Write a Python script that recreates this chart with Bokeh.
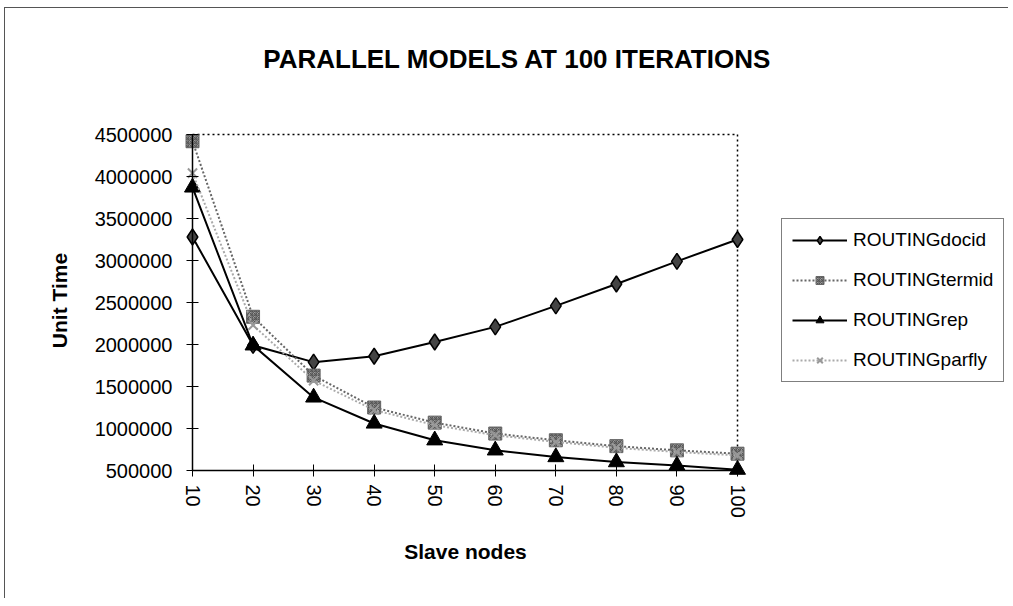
import math
from bokeh.plotting import figure
from bokeh.models import (Range1d, FixedTicker, BasicTickFormatter, Legend, LegendItem, Label)
from bokeh.embed import file_html
from bokeh.resources import INLINE

# ---- data ----
slave_nodes = [10, 20, 30, 40, 50, 60, 70, 80, 90, 100]
routing_docid = [3280000, 1990000, 1790000, 1860000, 2030000, 2210000, 2460000, 2720000, 2990000, 3250000]
routing_termid = [4420000, 2330000, 1630000, 1250000, 1070000, 940000, 860000, 790000, 740000, 700000]
routing_rep = [3870000, 1990000, 1370000, 1060000, 860000, 740000, 660000, 600000, 560000, 510000]
routing_parfly = [4040000, 2230000, 1570000, 1220000, 1040000, 920000, 840000, 770000, 720000, 680000]
y_ticks = [500000, 1000000, 1500000, 2000000, 2500000, 3000000, 3500000, 4000000, 4500000]

FONT = "Liberation Sans"

# layout in pixels: the frame fills the whole canvas; the plotted area is a 545 x 336 box in it
CANVAS_W, CANVAS_H = 1003, 590
PLOT_LEFT, PLOT_BOTTOM = 187, 128          # plotted area offset from canvas left / bottom
PLOT_W, PLOT_H = 545, 336
x0, x1 = slave_nodes[0], slave_nodes[-1]
y0, y1 = y_ticks[0], y_ticks[-1]
xu = (x1 - x0) / PLOT_W
yu = (y1 - y0) / PLOT_H
x_range = Range1d(x0 - PLOT_LEFT * xu, x0 + (CANVAS_W - PLOT_LEFT) * xu)
y_range = Range1d(y0 - PLOT_BOTTOM * yu, y0 + (CANVAS_H - PLOT_BOTTOM) * yu)

p = figure(frame_width=CANVAS_W, frame_height=CANVAS_H, output_backend="svg", toolbar_location=None,
           x_range=x_range, y_range=y_range, title_location=None,
           min_border_left=0, min_border_right=0, min_border_top=0, min_border_bottom=0)
p.styles = {"border-left": "1px solid #555", "border-top": "1px solid #555",
            "margin-left": "4px", "margin-top": "7px"}

p.xgrid.visible = False
p.ygrid.visible = False
p.outline_line_color = None

# axes, pinned to the plotted box
p.xaxis.ticker = FixedTicker(ticks=slave_nodes)
p.yaxis.ticker = FixedTicker(ticks=y_ticks)
p.xaxis.bounds = (x0, x1)
p.yaxis.bounds = (y0, y1)
p.xaxis.fixed_location = y0
p.yaxis.fixed_location = x0
p.yaxis.formatter = BasicTickFormatter(use_scientific=False)
p.xaxis.major_label_orientation = "vertical"
for ax in (p.xaxis[0], p.yaxis[0]):
    ax.axis_line_color = "black"
    ax.axis_line_width = 1.5
    ax.major_tick_line_color = "black"
    ax.major_tick_in = 6
    ax.major_tick_out = 6
    ax.minor_tick_line_color = None
    ax.major_label_text_font = FONT
    ax.major_label_text_font_size = "20px"
    ax.major_label_text_color = "black"
p.xaxis.major_label_standoff = 8
p.yaxis.major_label_standoff = 14

# dotted plot-area border (top and right)
p.line([x0, x1, x1], [y1, y1, y0], line_color="black", line_width=1.5, line_dash="2 3")

# series
r_doc_l = p.line(slave_nodes, routing_docid, line_color="black", line_width=2)
r_doc_m = p.scatter(slave_nodes, routing_docid, marker="diamond", size=16,
                    fill_color="#444444", line_color="black", line_width=1.5)
r_term_l = p.line(slave_nodes, routing_termid, line_color="#666666", line_width=2, line_dash="2 2")
r_term_m = p.scatter(slave_nodes, routing_termid, marker="square", size=13,
                     fill_color="#9a9a9a", line_color="#666666", line_width=1,
                     hatch_pattern="criss_cross", hatch_color="#555555", hatch_scale=4, hatch_weight=1)
r_rep_l = p.line(slave_nodes, routing_rep, line_color="black", line_width=2)
r_rep_m = p.scatter(slave_nodes, routing_rep, marker="triangle", size=16,
                    fill_color="black", line_color="black")
r_par_l = p.line(slave_nodes, routing_parfly, line_color="#aaaaaa", line_width=2, line_dash="2 2")
r_par_m = p.scatter(slave_nodes, routing_parfly, marker="x", size=13,
                    line_color="#999999", line_width=2)

legend = Legend(items=[
    LegendItem(label="ROUTINGdocid", renderers=[r_doc_l, r_doc_m]),
    LegendItem(label="ROUTINGtermid", renderers=[r_term_l, r_term_m]),
    LegendItem(label="ROUTINGrep", renderers=[r_rep_l, r_rep_m]),
    LegendItem(label="ROUTINGparfly", renderers=[r_par_l, r_par_m]),
], location=(776, 216))
legend.border_line_color = "black"
legend.border_line_width = 1.5
legend.background_fill_color = "white"
legend.label_text_font = FONT
legend.label_text_font_size = "19px"
legend.label_text_color = "black"
legend.glyph_width = 55
legend.glyph_height = 20
legend.label_height = 20
legend.spacing = 18
legend.padding = 10
legend.margin = 0
legend.label_standoff = 6
p.add_layout(legend, "center")

p.add_layout(Label(x=512, y=540, x_units="screen", y_units="screen",
                   text="PARALLEL MODELS AT 100 ITERATIONS", text_font=FONT,
                   text_font_style="bold", text_font_size="26px", text_color="black",
                   text_align="center", text_baseline="middle"))
p.add_layout(Label(x=54, y=298, x_units="screen", y_units="screen", angle=math.pi / 2,
                   text="Unit Time", text_font=FONT,
                   text_font_style="bold", text_font_size="21px", text_color="black",
                   text_align="center", text_baseline="middle"))
p.add_layout(Label(x=460, y=47, x_units="screen", y_units="screen",
                   text="Slave nodes", text_font=FONT,
                   text_font_style="bold", text_font_size="21px", text_color="black",
                   text_align="center", text_baseline="middle"))

open("out.html", "w").write(file_html(p, INLINE))
